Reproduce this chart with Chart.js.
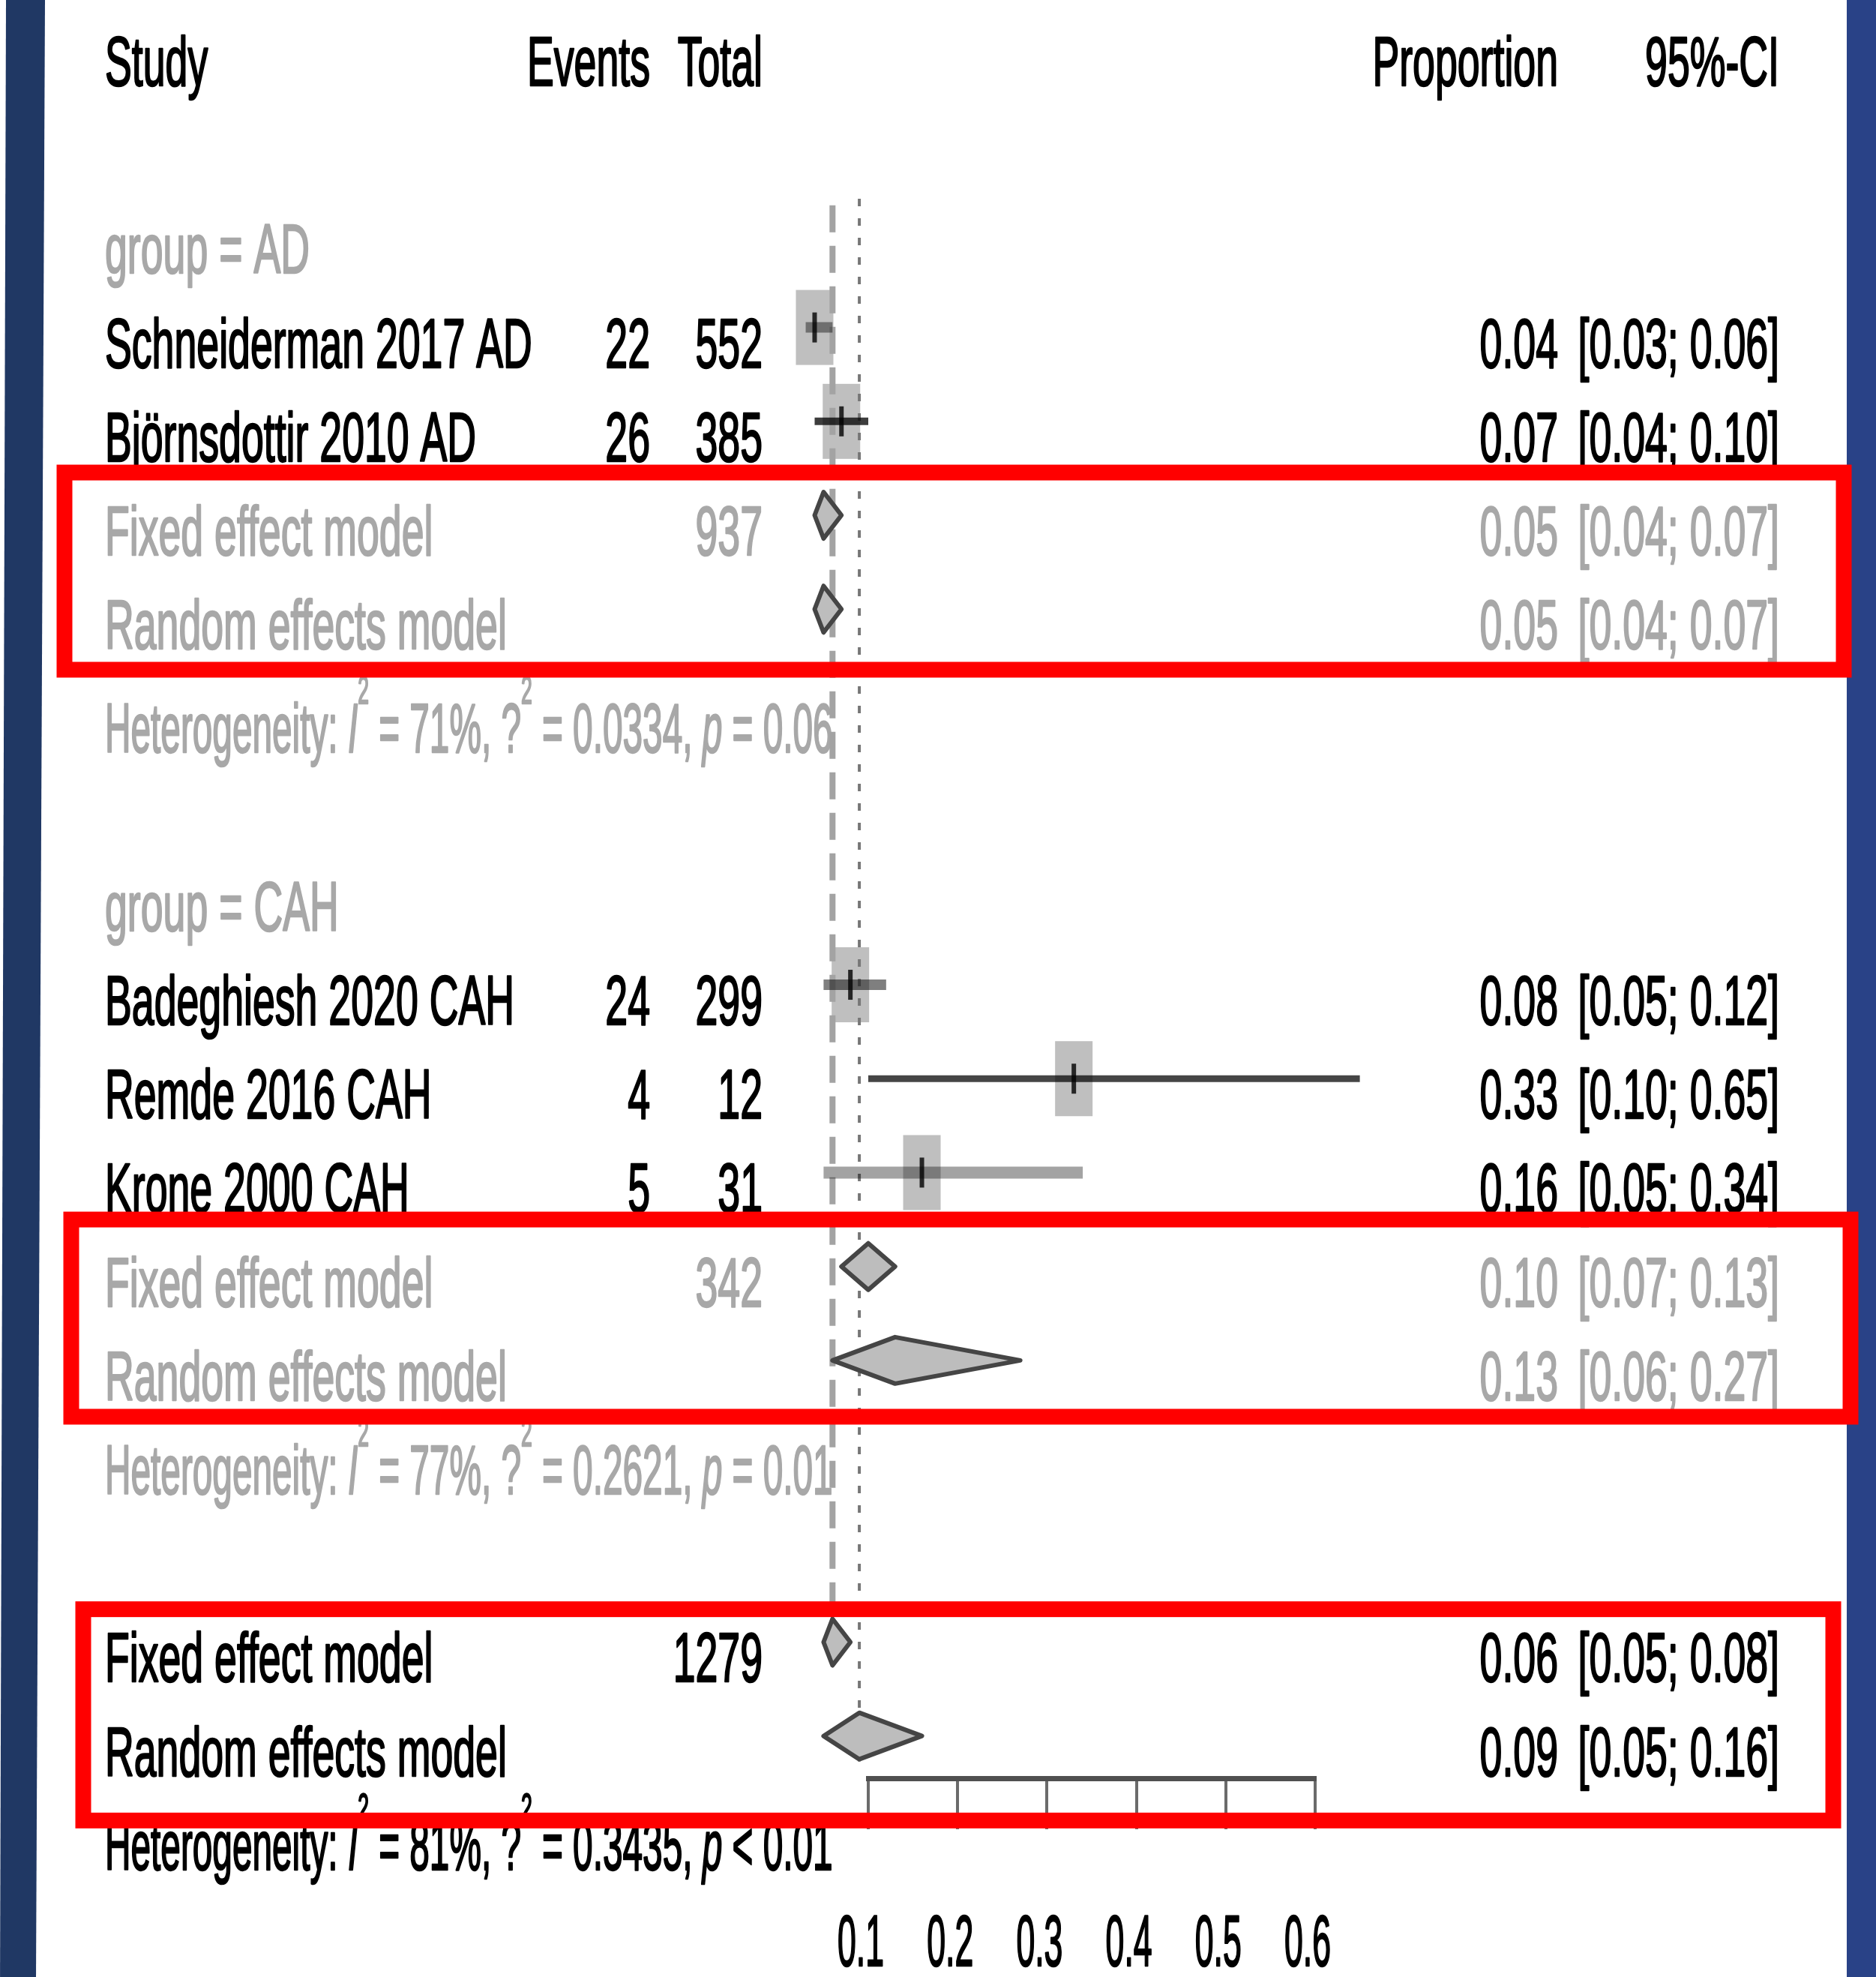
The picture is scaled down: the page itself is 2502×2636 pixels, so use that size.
<!DOCTYPE html>
<html>
<head>
<meta charset="utf-8">
<title>Forest plot</title>
<script src="https://cdn.jsdelivr.net/npm/chart.js@4.4.1/dist/chart.umd.min.js"></script>
<style>
  html, body { margin: 0; padding: 0; background: #fff; }
  canvas { display: block; }
</style>
</head>
<body>
<canvas id="forest" width="2502" height="2636"></canvas>
<script>
// individual studies
var studies = ['Schneiderman 2017 AD', 'Björnsdottir 2010 AD', 'Badeghiesh 2020 CAH', 'Remde 2016 CAH', 'Krone 2000 CAH'];
var events = [22, 26, 24, 4, 5];
var totals = [552, 385, 299, 12, 31];
var props = [0.04, 0.07, 0.08, 0.33, 0.16];
var lower = [0.03, 0.04, 0.05, 0.10, 0.05];
var upper = [0.06, 0.10, 0.12, 0.65, 0.34];

// subgroup summaries (AD, CAH)
var groups = ['AD', 'CAH'];
var groupTotals = [937, 342];
var fixedEst = [0.05, 0.10];
var fixedLo = [0.04, 0.07];
var fixedHi = [0.07, 0.13];
var randomEst = [0.05, 0.13];
var randomLo = [0.04, 0.06];
var randomHi = [0.07, 0.27];

// overall summaries
var overallTotal = 1279;
var overallFixed = [0.06, 0.05, 0.08];   // est, lo, hi
var overallRandom = [0.09, 0.05, 0.16];

// heterogeneity lines: AD, CAH, overall
var hetI2 = ['71%', '77%', '81%'];
var hetTau2 = ['0.0334', '0.2621', '0.3435'];
var hetP = ['= 0.06', '= 0.01', '< 0.01'];

var xTicks = [0.1, 0.2, 0.3, 0.4, 0.5, 0.6];

// row layout (y scale units, 0 = header)
var studyRows = [3, 4, 10, 11, 12];
var groupRows = [2, 9];
var fixedRows = [5, 13];
var randomRows = [6, 14];
var hetRows = [7.1, 15, 19];
var overallFixedRow = 17;
var overallRandomRow = 18;

// styling
var FONT = "'Liberation Sans Narrow', 'Liberation Sans', Arial, sans-serif";
var FS = 92;
var GREY = '#a8a8a8';
var ciColors = ['rgba(0,0,0,0.42)', 'rgba(0,0,0,0.76)', 'rgba(0,0,0,0.5)', 'rgba(0,0,0,0.73)', 'rgba(0,0,0,0.36)'];
var ciWidths = [14, 10, 14, 9, 16];
var BOX_W = 50, BOX_H = 100;
var TEXT_DY = 20;
var COL = { study: 140, events: 867, total: 1017, prop: 2078, ci: 2373 };

// squeeze the narrow face so labels fit the table columns
var sx = 0.67, sxTick = 0.58;
(function () {
  var c = document.createElement('canvas').getContext('2d');
  c.font = FS + 'px ' + FONT;
  var samples = [['Schneiderman 2017 AD', 550], ['Random effects model', 554], ['Fixed effect model', 457], ['Badeghiesh 2020 CAH', 528]];
  var want = 0, got = 0;
  samples.forEach(function (s) { want += s[1]; got += c.measureText(s[0]).width; });
  if (got > 0) sx = want / got;
  c.font = '96px ' + FONT;
  var w = c.measureText('0.1').width;
  if (w > 0) sxTick = 62 / w;
})();
var sxHet = sx * 0.89;

function txt(ctx, s, x, cy, align, color, opts) {
  opts = opts || {};
  var size = opts.size || FS;
  ctx.save();
  ctx.font = (opts.italic ? 'italic ' : '') + size + 'px ' + FONT;
  ctx.fillStyle = color;
  ctx.strokeStyle = color;
  ctx.lineWidth = 2.5;
  ctx.lineJoin = 'round';
  ctx.textAlign = align;
  ctx.textBaseline = 'alphabetic';
  ctx.translate(x, cy + size * 0.358);
  ctx.scale(opts.sx || sx, 1);
  ctx.fillText(s, 0, 0);
  ctx.strokeText(s, 0, 0);
  ctx.restore();
}

function richText(ctx, parts, x, cy, color) {
  var cur = x;
  parts.forEach(function (p) {
    var size = p.sup ? Math.round(FS * 0.55) : FS;
    ctx.save();
    ctx.font = (p.it ? 'italic ' : '') + size + 'px ' + FONT;
    var w = ctx.measureText(p.t).width * sxHet;
    ctx.fillStyle = color;
    ctx.strokeStyle = color;
    ctx.lineWidth = 2.5;
    ctx.lineJoin = 'round';
    ctx.textBaseline = 'alphabetic';
    var base = cy + FS * 0.358 - (p.sup ? FS * 0.7 : 0);
    ctx.translate(cur, base);
    ctx.scale(sxHet, 1);
    ctx.fillText(p.t, 0, 0);
    ctx.strokeText(p.t, 0, 0);
    ctx.restore();
    cur += w;
  });
}

function ciText(lo, hi) {
  return '[' + lo.toFixed(2) + '; ' + hi.toFixed(2) + ']';
}

function hetParts(i) {
  return [
    { t: 'Heterogeneity: ' }, { t: 'I', it: true }, { t: '2', sup: true },
    { t: ' = ' + hetI2[i] + ', ?' }, { t: '2', sup: true },
    { t: ' = ' + hetTau2[i] + ', ' }, { t: 'p', it: true }, { t: ' ' + hetP[i] }
  ];
}

function diamond(ctx, xs, ys, est, lo, hi, row) {
  var y = ys.getPixelForValue(row), h = 31;
  ctx.save();
  ctx.beginPath();
  ctx.moveTo(xs.getPixelForValue(lo), y);
  ctx.lineTo(xs.getPixelForValue(est), y - h);
  ctx.lineTo(xs.getPixelForValue(hi), y);
  ctx.lineTo(xs.getPixelForValue(est), y + h);
  ctx.closePath();
  ctx.fillStyle = '#bdbdbd';
  ctx.fill();
  ctx.lineWidth = 6;
  ctx.lineJoin = 'round';
  ctx.strokeStyle = '#454545';
  ctx.stroke();
  ctx.restore();
}

var forestTable = {
  id: 'forestTable',
  beforeDraw: function (chart) {
    var ctx = chart.ctx, W = chart.width, H = chart.height;
    ctx.save();
    ctx.fillStyle = '#fff';
    ctx.fillRect(0, 0, W, H);
    // side bars of the slide
    ctx.fillStyle = '#203864';
    ctx.beginPath();
    ctx.moveTo(8, 0); ctx.lineTo(60, 0); ctx.lineTo(48, H); ctx.lineTo(0, H);
    ctx.closePath();
    ctx.fill();
    ctx.fillStyle = '#294287';
    ctx.fillRect(2463, 0, W - 2463, H);
    ctx.restore();
  },
  beforeDatasetsDraw: function (chart) {
    var ctx = chart.ctx, xs = chart.scales.x, ys = chart.scales.y;
    var rowY = function (r) { return ys.getPixelForValue(r) + TEXT_DY; };

    // header
    var y0 = rowY(0);
    txt(ctx, 'Study', COL.study, y0, 'left', '#000');
    txt(ctx, 'Events', COL.events, y0, 'right', '#000');
    txt(ctx, 'Total', COL.total, y0, 'right', '#000');
    txt(ctx, 'Proportion', COL.prop, y0, 'right', '#000');
    txt(ctx, '95%-CI', COL.ci, y0, 'right', '#000');

    // subgroup headings and summaries
    groups.forEach(function (g, k) {
      txt(ctx, 'group = ' + g, COL.study, rowY(groupRows[k]), 'left', GREY);
      var yf = rowY(fixedRows[k]);
      txt(ctx, 'Fixed effect model', COL.study, yf, 'left', GREY);
      txt(ctx, String(groupTotals[k]), COL.total, yf, 'right', GREY);
      txt(ctx, fixedEst[k].toFixed(2), COL.prop, yf, 'right', GREY);
      txt(ctx, ciText(fixedLo[k], fixedHi[k]), COL.ci, yf, 'right', GREY);
      var yr = rowY(randomRows[k]);
      txt(ctx, 'Random effects model', COL.study, yr, 'left', GREY);
      txt(ctx, randomEst[k].toFixed(2), COL.prop, yr, 'right', GREY);
      txt(ctx, ciText(randomLo[k], randomHi[k]), COL.ci, yr, 'right', GREY);
      richText(ctx, hetParts(k), COL.study, rowY(hetRows[k]), GREY);
    });

    // study rows
    studies.forEach(function (s, i) {
      var y = rowY(studyRows[i]);
      txt(ctx, s, COL.study, y, 'left', '#000');
      txt(ctx, String(events[i]), COL.events, y, 'right', '#000');
      txt(ctx, String(totals[i]), COL.total, y, 'right', '#000');
      txt(ctx, props[i].toFixed(2), COL.prop, y, 'right', '#000');
      txt(ctx, ciText(lower[i], upper[i]), COL.ci, y, 'right', '#000');
    });

    // overall rows
    var of = rowY(overallFixedRow), orr = rowY(overallRandomRow);
    txt(ctx, 'Fixed effect model', COL.study, of, 'left', '#000');
    txt(ctx, String(overallTotal), COL.total, of, 'right', '#000');
    txt(ctx, overallFixed[0].toFixed(2), COL.prop, of, 'right', '#000');
    txt(ctx, ciText(overallFixed[1], overallFixed[2]), COL.ci, of, 'right', '#000');
    txt(ctx, 'Random effects model', COL.study, orr, 'left', '#000');
    txt(ctx, overallRandom[0].toFixed(2), COL.prop, orr, 'right', '#000');
    txt(ctx, ciText(overallRandom[1], overallRandom[2]), COL.ci, orr, 'right', '#000');
    richText(ctx, hetParts(2), COL.study, rowY(hetRows[2]), '#000');

    // study weight boxes
    ctx.save();
    ctx.fillStyle = '#bfbfbf';
    studies.forEach(function (s, i) {
      var cx = xs.getPixelForValue(props[i]), cy = ys.getPixelForValue(studyRows[i]);
      ctx.fillRect(cx - BOX_W / 2, cy - BOX_H / 2, BOX_W, BOX_H);
    });
    ctx.restore();
  },
  afterDatasetsDraw: function (chart) {
    var ctx = chart.ctx, xs = chart.scales.x, ys = chart.scales.y;
    // point estimate ticks
    ctx.save();
    ctx.fillStyle = 'rgba(0,0,0,0.8)';
    studies.forEach(function (s, i) {
      var cx = xs.getPixelForValue(props[i]), cy = ys.getPixelForValue(studyRows[i]);
      ctx.fillRect(cx - 3, cy - 20, 6, 40);
    });
    ctx.restore();
    // summary diamonds
    groups.forEach(function (g, k) {
      diamond(ctx, xs, ys, fixedEst[k], fixedLo[k], fixedHi[k], fixedRows[k]);
      diamond(ctx, xs, ys, randomEst[k], randomLo[k], randomHi[k], randomRows[k]);
    });
    diamond(ctx, xs, ys, overallFixed[0], overallFixed[1], overallFixed[2], overallFixedRow);
    diamond(ctx, xs, ys, overallRandom[0], overallRandom[1], overallRandom[2], overallRandomRow);
  },
  afterDraw: function (chart) {
    var ctx = chart.ctx, xs = chart.scales.x, ys = chart.scales.y;
    // axis labels
    xs.ticks.forEach(function (t) {
      txt(ctx, t.value.toFixed(1), xs.getPixelForValue(t.value) - 10, xs.top + 216, 'center', '#000', { size: 96, sx: sxTick });
    });
    // highlight frames around the pooled estimates
    var frames = [[86, 2459, 4.545, 6.645], [95, 2468, 12.5, 14.6], [111, 2445, 16.65, 18.9]];
    ctx.save();
    ctx.strokeStyle = '#ff0000';
    ctx.lineWidth = 21;
    frames.forEach(function (f) {
      var y1 = ys.getPixelForValue(f[2]), y2 = ys.getPixelForValue(f[3]);
      ctx.strokeRect(f[0], y1, f[1] - f[0], y2 - y1);
    });
    ctx.restore();
  }
};

var datasets = [];
studies.forEach(function (s, i) {
  datasets.push({
    label: s,
    data: [{ x: lower[i], y: studyRows[i] }, { x: upper[i], y: studyRows[i] }],
    showLine: true,
    borderColor: ciColors[i],
    borderWidth: ciWidths[i],
    pointRadius: 0,
    pointHoverRadius: 0,
    clip: false
  });
});
// reference lines at the pooled fixed and random estimates
datasets.push({
  label: 'fixed',
  data: [{ x: overallFixed[0], y: 1.7 }, { x: overallFixed[0], y: 17.2 }],
  showLine: true,
  borderColor: '#a3a3a3',
  borderWidth: 8,
  borderDash: [36, 18],
  pointRadius: 0,
  clip: false
});
datasets.push({
  label: 'random',
  data: [{ x: overallRandom[0], y: 1.63 }, { x: overallRandom[0], y: 18.27 }],
  showLine: true,
  borderColor: '#777',
  borderWidth: 4,
  borderDash: [10, 16],
  pointRadius: 0,
  clip: false
});

var ctx = document.getElementById('forest');
var forest = new Chart(ctx, {
  type: 'scatter',
  data: { datasets: datasets },
  options: {
    responsive: false,
    animation: false,
    devicePixelRatio: 1,
    events: [],
    layout: { padding: { left: 1158, right: 748, top: 61, bottom: 0 } },
    plugins: { legend: { display: false }, tooltip: { enabled: false } },
    scales: {
      x: {
        type: 'linear',
        position: 'bottom',
        min: 0.1,
        max: 0.6,
        afterBuildTicks: function (scale) {
          scale.ticks = xTicks.map(function (v) { return { value: v }; });
        },
        afterFit: function (scale) { scale.height = 265; },
        ticks: { display: false },
        grid: { drawOnChartArea: false, drawTicks: true, tickLength: 68, color: '#6b6b6b', lineWidth: 4 },
        border: { display: true, color: '#505050', width: 7 }
      },
      y: { type: 'linear', display: false, reverse: true, min: 0, max: 18.45 }
    }
  },
  plugins: [forestTable]
});
</script>
</body>
</html>
